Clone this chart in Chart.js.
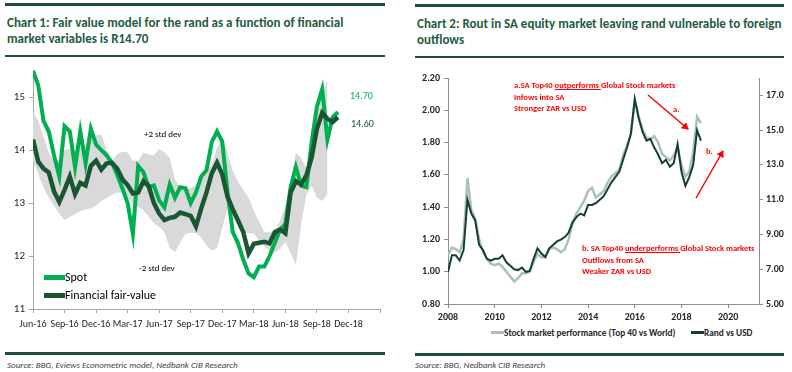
<!DOCTYPE html>
<html lang="en">
<head>
<meta charset="UTF-8">
<title>Rand fair value and equity flows</title>
<script src="https://cdn.jsdelivr.net/npm/chart.js"></script>
<style>
  body { margin: 0; background: #fff; font-family: Carlito, 'Liberation Sans Narrow', Lato, sans-serif; }
  #page { position: relative; width: 792px; height: 372px; overflow: hidden; }
  .bar { position: absolute; height: 3px; background: #1e4d3b; }
  .rule { position: absolute; height: 1.5px; background: #1e4d3b; }
  .title { position: absolute; color: #1f5c40; font-weight: bold; font-size: 13px; line-height: 16px; white-space: nowrap; }
  .source { position: absolute; font-style: italic; font-size: 9px; color: #444; white-space: nowrap; }
  .note { position: absolute; white-space: nowrap; line-height: 1; }
  .red { color: #ff0000; font-weight: bold; font-size: 8.5px; line-height: 11.5px; }
  .key { position: absolute; display: flex; align-items: center; white-space: nowrap; line-height: 1; }
  .swatch { display: inline-block; }
  canvas { position: absolute; }
  svg { position: absolute; left: 0; top: 0; }
</style>
</head>
<body>
<div id="page">
  <!-- left panel frame -->
  <div class="bar" style="left:5px; top:3px; width:380px;"></div>
  <div class="title" style="left:7px; top:15px;">Chart 1: Fair value model for the rand as a function of financial<br>market variables is R14.70</div>
  <div class="rule" style="left:5px; top:55px; width:380px;"></div>
  <canvas id="chart1" width="390" height="279" style="left:0; top:60px;"></canvas>
  <div class="note" style="left:144px; top:129px; font-size:9px;">+2 std dev</div>
  <div class="note" style="left:139px; top:263px; font-size:9px;">-2 std dev</div>
  <div class="note" style="left:350px; top:91px; font-size:10px; color:#00b050;">14.70</div>
  <div class="note" style="left:351px; top:119px; font-size:10px; color:#1a5632;">14.60</div>
  <div class="key" style="left:44px; top:271px; font-size:12px;"><span class="swatch" style="width:21px; height:5px; background:#00b050;"></span>Spot</div>
  <div class="key" style="left:44px; top:289px; font-size:12px;"><span class="swatch" style="width:21px; height:5px; background:#1a5632;"></span>Financial fair-value</div>
  <div class="bar" style="left:5px; top:352px; width:380px;"></div>
  <div class="source" style="left:7px; top:359px;">Source: BBG, Eviews Econometric model, Nedbank CIB Research</div>

  <!-- right panel frame -->
  <div class="bar" style="left:415px; top:4px; width:369px;"></div>
  <div class="title" style="left:417px; top:16px;">Chart 2: Rout in SA equity market leaving rand vulnerable to foreign<br>outflows</div>
  <div class="rule" style="left:415px; top:56px; width:369px;"></div>
  <canvas id="chart2" width="392" height="266" style="left:400px; top:60px;"></canvas>
  <div class="note red" style="left:514px; top:80px;">a.SA Top40 <u>outperforms </u>Global Stock markets<br>Infows into SA<br>Stronger ZAR vs USD</div>
  <div class="note red" style="left:673px; top:104px;">a.</div>
  <div class="note red" style="left:706px; top:146px;">b.</div>
  <div class="note red" style="left:582px; top:243px;">b. SA Top40 <u>underperforms </u>Global Stock markets<br>Outflows from SA<br>Weaker ZAR vs USD</div>
  <div class="key" style="left:491px; top:328px; font-size:9.3px; font-weight:bold; color:#262626;"><span class="swatch" style="width:13px; height:3px; background:#a9c2b6;"></span>Stock market performance (Top 40 vs World)</div>
  <div class="key" style="left:691px; top:328px; font-size:9.3px; font-weight:bold; color:#262626;"><span class="swatch" style="width:13px; height:3px; background:#173f2f;"></span>Rand vs USD</div>
  <div class="bar" style="left:415px; top:353px; width:369px;"></div>
  <div class="source" style="left:415px; top:359px;">Source: BBG, Nedbank CIB Research</div>

  <svg width="792" height="372">
    <defs>
      <marker id="head" markerWidth="8" markerHeight="8" refX="6" refY="4" orient="auto" markerUnits="userSpaceOnUse">
        <path d="M0,0 L7,4 L0,8 z" fill="#ff0000"/>
      </marker>
    </defs>
    <line x1="648" y1="95" x2="688" y2="129" stroke="#ff0000" stroke-width="1.5" marker-end="url(#head)"/>
    <line x1="696" y1="198" x2="723" y2="151" stroke="#ff0000" stroke-width="1.5" marker-end="url(#head)"/>
  </svg>
</div>

<script>
// ---- Chart 1 data: rand spot vs financial fair value (semi-monthly) ----
const c1Dates = [
  '2016-06-01','2016-06-16','2016-07-01','2016-07-16','2016-08-01','2016-08-16','2016-09-01','2016-09-16',
  '2016-10-01','2016-10-16','2016-11-01','2016-11-16','2016-12-01','2016-12-16',
  '2017-01-01','2017-01-16','2017-02-01','2017-02-16','2017-03-01','2017-03-16','2017-04-01','2017-04-16',
  '2017-05-01','2017-05-16','2017-06-01','2017-06-16','2017-07-01','2017-07-16','2017-08-01','2017-08-16',
  '2017-09-01','2017-09-16','2017-10-01','2017-10-16','2017-11-01','2017-11-16','2017-12-01','2017-12-16',
  '2018-01-01','2018-01-16','2018-02-01','2018-02-16','2018-03-01','2018-03-16','2018-04-01','2018-04-16',
  '2018-05-01','2018-05-16','2018-06-01','2018-06-16','2018-07-01','2018-07-16','2018-08-01','2018-08-16',
  '2018-09-01','2018-09-16','2018-10-01','2018-10-16','2018-11-01'
];
const spot = [15.5, 15.22, 14.55, 14.35, 13.9, 13.5, 14.45, 14.35, 13.68, 14.35,
  13.75, 14.4, 14.1, 14.0, 13.9, 13.76, 13.54, 13.28, 13.0, 12.42,
  13.7, 13.58, 13.3, 13.33, 13.05, 12.92, 13.35, 13.1, 13.3, 13.28,
  13.0, 13.2, 13.5, 13.62, 14.15, 14.35, 14.16, 13.2, 12.45, 12.24,
  11.93, 11.67, 11.6, 11.8, 11.8, 12.0, 12.25, 12.5, 12.6, 13.3,
  13.68, 13.33, 13.3, 14.15, 14.82, 15.15, 14.2, 14.62, 14.72];
const fairValue = [14.2, 13.78, 13.65, 13.58, 13.22, 13.02, 13.25, 13.5, 13.17, 13.38,
  13.33, 13.7, 13.8, 13.63, 13.75, 13.76, 13.65, 13.45, 13.34, 13.18,
  13.2, 13.41, 13.32, 13.0, 12.8, 12.68, 12.72, 12.74, 12.82, 12.79,
  12.76, 12.56, 12.9, 13.2, 13.56, 13.76, 13.54, 13.12, 12.88, 12.67,
  12.45, 12.05, 12.23, 12.25, 12.27, 12.24, 12.45, 12.5, 12.43, 13.2,
  13.41, 13.35, 13.52, 13.86, 14.4, 14.7, 14.59, 14.53, 14.62];
const plus2sd = [14.72, 14.55, 14.25, 13.95, 13.8, 13.8, 14.0, 14.03, 13.98, 14.05,
  14.12, 14.2, 14.28, 14.3, 14.0, 13.8, 13.92, 13.97, 13.96, 13.8,
  13.8, 13.95, 13.92, 13.9, 14.02, 13.96, 13.85, 13.45, 13.3, 13.28,
  13.28, 13.35, 13.45, 13.58, 13.72, 14.05, 14.2, 13.95, 13.6, 13.4,
  13.25, 13.1, 12.85, 12.65, 12.45, 12.45, 12.5, 12.66, 12.95, 13.4,
  13.95, 13.85, 13.65, 14.3, 14.72, 15.0, 15.34, null, null];
const minus2sd = [13.8, 13.55, 13.3, 13.1, 12.95, 12.8, 12.68, 12.74, 12.79, 12.85,
  12.88, 12.9, 12.95, 13.04, 13.09, 13.15, 13.2, 13.2, 13.1, 12.98,
  12.92, 12.87, 12.74, 12.62, 12.55, 12.45, 12.15, 12.07, 12.25, 12.42,
  12.44, 12.43, 12.35, 12.2, 12.1, 12.15, 12.53, 12.9, 12.75, 12.55,
  12.45, 12.43, 12.42, 12.3, 12.18, 12.1, 12.06, 12.14, 12.27, 12.05,
  11.82, 12.6, 13.15, 13.33, 13.1, 13.04, 13.17, null, null];
const c1TickLabels = ['Jun-16','Sep-16','Dec-16','Mar-17','Jun-17','Sep-17','Dec-17','Mar-18','Jun-18','Sep-18','Dec-18',''];
const c1YTicks = [11, 12, 13, 14, 15];

// ---- Chart 2 data: Top40 vs World relative performance and USD/ZAR (bi-monthly) ----
const c2Dates = [
  '2008-01','2008-03','2008-05','2008-07','2008-09','2008-11','2009-01','2009-03','2009-05','2009-07','2009-09','2009-11',
  '2010-01','2010-03','2010-05','2010-07','2010-09','2010-11','2011-01','2011-03','2011-05','2011-07','2011-09','2011-11',
  '2012-01','2012-03','2012-05','2012-07','2012-09','2012-11','2013-01','2013-03','2013-05','2013-07','2013-09','2013-11',
  '2014-01','2014-03','2014-05','2014-07','2014-09','2014-11','2015-01','2015-03','2015-05','2015-07','2015-09','2015-11',
  '2016-01','2016-03','2016-05','2016-07','2016-09','2016-11','2017-01','2017-03','2017-05','2017-07','2017-09','2017-11',
  '2018-01','2018-03','2018-05','2018-07','2018-09','2018-11'
];
const stockPerf = [1.1, 1.15, 1.14, 1.12, 1.2, 1.58, 1.38, 1.33, 1.2, 1.12,
  1.08, 1.05, 1.04, 1.05, 1.03, 1.0, 0.97, 0.94, 0.96, 0.99,
  0.99, 1.0, 1.06, 1.11, 1.09, 1.09, 1.14, 1.15, 1.14, 1.12,
  1.14, 1.2, 1.3, 1.36, 1.4, 1.44, 1.5, 1.52, 1.46, 1.48,
  1.5, 1.55, 1.59, 1.61, 1.63, 1.72, 1.78, 1.85, 2.06, 1.96,
  1.88, 1.83, 1.82, 1.84, 1.8, 1.73, 1.71, 1.69, 1.72, 1.77,
  1.66, 1.59, 1.62, 1.74, 1.96, 1.92];
const randUsd = [6.84, 7.8, 7.8, 7.5, 8.1, 11.0, 10.2, 9.8, 8.4, 8.1,
  7.6, 7.5, 7.6, 7.6, 7.8, 7.4, 7.2, 7.0, 6.95, 7.1,
  6.85, 6.9, 7.6, 8.2, 7.9, 7.7, 8.2, 8.4, 8.6, 8.7,
  8.85, 9.1, 9.7, 10.0, 10.2, 10.1, 10.7, 10.7, 10.8, 11.0,
  11.2, 11.6, 12.0, 12.3, 12.6, 13.3, 14.0, 14.8, 16.8, 15.7,
  14.9, 14.4, 14.5, 14.0, 13.6, 13.1, 13.3, 12.9, 13.1, 14.2,
  12.6, 11.8, 12.3, 13.0, 15.0, 14.4];
const c2YearTicks = [2008, 2010, 2012, 2014, 2016, 2018, 2020];
const c2LeftTicks = [0.8, 1.0, 1.2, 1.4, 1.6, 1.8, 2.0, 2.2];
const c2RightTicks = [5, 7, 9, 11, 13, 15, 17];
const c2RightLabels = ['5.00', '7.00', '9.00', '11.0', '13.0', '15.0', '17.0'];

const FONT = "Carlito, 'Liberation Sans Narrow', Lato, sans-serif";
Chart.defaults.font.family = FONT;
Chart.defaults.color = '#262626';

function monthsSinceJun16(d) {
  const [y, m, dd] = d.split('-').map(Number);
  return (y - 2016) * 12 + (m - 6) + (dd - 1) / 30;
}
function yearFraction(d) {
  const [y, m] = d.split('-').map(Number);
  return y + (m - 1) / 12;
}
function pairs(xs, ys) {
  return xs.map((x, i) => ({ x: x, y: ys[i] }));
}

const c1X = c1Dates.map(monthsSinceJun16);
const axisGrey = '#a6a6a6';

new Chart(document.getElementById('chart1'), {
  type: 'line',
  data: {
    datasets: [
      { label: 'Financial fair-value', data: pairs(c1X, fairValue), borderColor: '#1a5632', borderWidth: 4.5, pointRadius: 0, tension: 0, order: 0 },
      { label: 'Spot', data: pairs(c1X, spot), borderColor: '#00b050', borderWidth: 4, pointRadius: 0, tension: 0, order: 1 },
      { label: '+2 std dev', data: pairs(c1X, plus2sd), borderWidth: 0, borderColor: 'rgba(0,0,0,0)', backgroundColor: '#d9d9d9', pointRadius: 0, fill: '+1', order: 2 },
      { label: '-2 std dev', data: pairs(c1X, minus2sd), borderWidth: 0, borderColor: 'rgba(0,0,0,0)', pointRadius: 0, fill: false, order: 3 }
    ]
  },
  options: {
    responsive: false,
    animation: false,
    layout: { padding: { top: 8, right: 10, left: 0, bottom: 0 } },
    plugins: { legend: { display: false }, tooltip: { enabled: false } },
    scales: {
      x: {
        type: 'linear', min: 0, max: 33,
        afterBuildTicks: s => { s.ticks = c1TickLabels.map((_, i) => ({ value: i * 3 })); },
        afterFit: s => { s.height = 30; },
        ticks: { autoSkip: false, maxRotation: 0, padding: 5, font: { size: 10 }, callback: (v, i) => c1TickLabels[i] },
        grid: { drawOnChartArea: false, drawTicks: true, tickLength: 4, color: axisGrey },
        border: { color: axisGrey }
      },
      y: {
        min: 11, max: 15.5,
        afterBuildTicks: s => { s.ticks = c1YTicks.map(v => ({ value: v })); },
        afterFit: s => { s.width = 33; },
        ticks: { padding: 4, font: { size: 11 } },
        grid: { drawOnChartArea: false, drawTicks: true, tickLength: 4, color: axisGrey },
        border: { color: axisGrey }
      }
    }
  }
});

const c2X = c2Dates.map(yearFraction);

new Chart(document.getElementById('chart2'), {
  type: 'line',
  data: {
    datasets: [
      { label: 'Rand vs USD', data: pairs(c2X, randUsd), yAxisID: 'yR', borderColor: '#173f2f', borderWidth: 2, pointRadius: 0, tension: 0 },
      { label: 'Stock market performance (Top 40 vs World)', data: pairs(c2X, stockPerf), yAxisID: 'yL', borderColor: '#a9c2b6', borderWidth: 2.5, pointRadius: 0, tension: 0 }
    ]
  },
  options: {
    responsive: false,
    animation: false,
    layout: { padding: { top: 18, right: 0, left: 0, bottom: 0 } },
    plugins: { legend: { display: false }, tooltip: { enabled: false } },
    scales: {
      x: {
        type: 'linear', min: 2008, max: 2021.32,
        afterBuildTicks: s => { s.ticks = c2YearTicks.map(v => ({ value: v })); },
        afterFit: s => { s.height = 22; },
        ticks: { autoSkip: false, maxRotation: 0, padding: 3, font: { size: 10, weight: 'bold' }, callback: v => String(v) },
        grid: { drawOnChartArea: false, drawTicks: true, tickLength: 4, color: '#8c8c8c' },
        border: { color: '#8c8c8c' }
      },
      yL: {
        position: 'left', min: 0.8, max: 2.2,
        afterBuildTicks: s => { s.ticks = c2LeftTicks.map(v => ({ value: v })); },
        afterFit: s => { s.width = 48; },
        ticks: { padding: 4, font: { size: 10, weight: 'bold' }, callback: v => v.toFixed(2) },
        grid: { drawOnChartArea: false, drawTicks: true, tickLength: 4, color: '#8c8c8c' },
        border: { color: '#8c8c8c' }
      },
      yR: {
        position: 'right', min: 5, max: 18,
        afterBuildTicks: s => { s.ticks = c2RightTicks.map(v => ({ value: v })); },
        afterFit: s => { s.width = 33; },
        ticks: { padding: 3, font: { size: 10, weight: 'bold' }, callback: (v, i) => c2RightLabels[i] },
        grid: { drawOnChartArea: false, drawTicks: true, tickLength: 4, color: '#8c8c8c' },
        border: { color: '#8c8c8c' }
      }
    }
  }
});
</script>
</body>
</html>
